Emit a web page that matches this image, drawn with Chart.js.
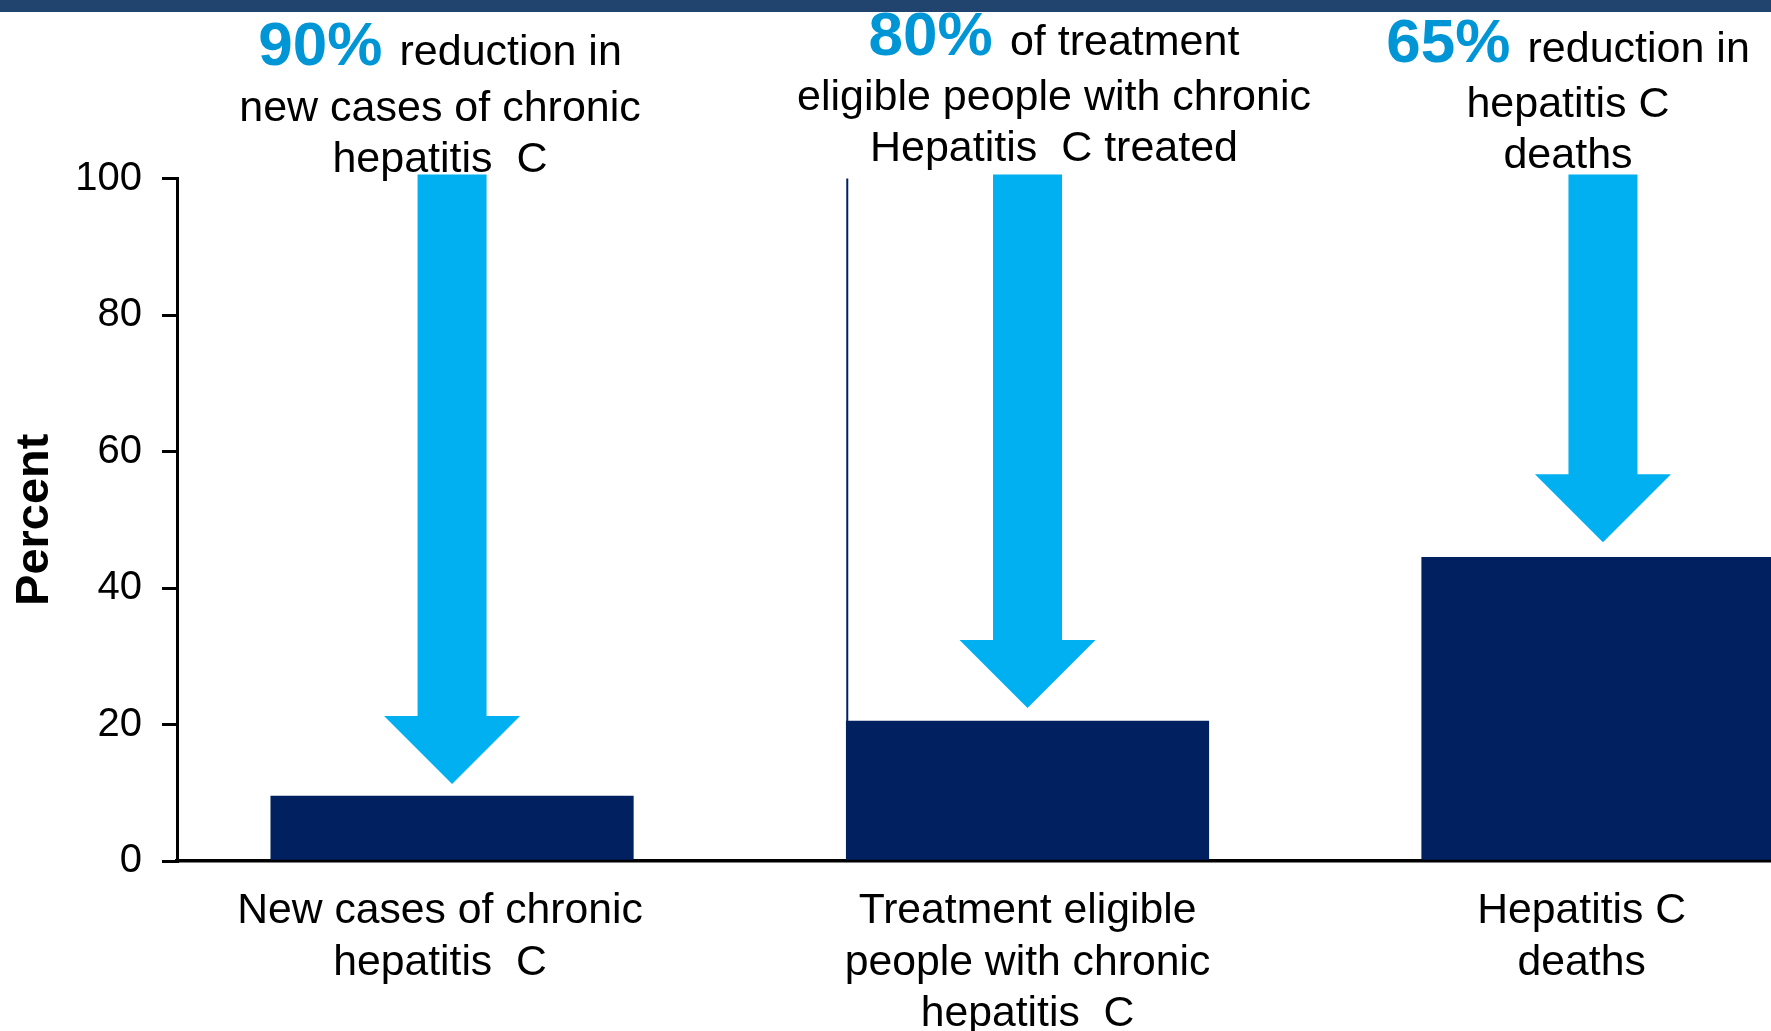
<!DOCTYPE html>
<html><head><meta charset="utf-8">
<script src="https://cdn.jsdelivr.net/npm/chart.js@4/dist/chart.umd.min.js"></script>
<style>html,body{margin:0;padding:0;background:#fff;overflow:hidden}#wrap{position:relative;width:1771px;height:1031px}</style>
</head><body><div id="wrap"><canvas id="c"></canvas></div>
<script>
// ---- data ----
const categories = [
  ["New cases of chronic", "hepatitis  C"],
  ["Treatment eligible", "people with chronic", "hepatitis  C"],
  ["Hepatitis C", "deaths"]
];
const percentValues = [9.5, 20.5, 44.5];
const arrowFrom = [100.6, 100.6, 100.6];
const arrowTo = [11.3, 22.4, 46.7];
const targetPercents = ["90%", "80%", "65%"];
const targetTexts = [
  ["reduction in", "new cases of chronic", "hepatitis  C"],
  ["of treatment", "eligible people with chronic", "Hepatitis  C treated"],
  ["reduction in", "hepatitis C", "deaths"]
];
const yTicks = [0, 20, 40, 60, 80, 100];
const yTitle = "Percent";

const FAMILY = '"Liberation Sans", Arial, Helvetica, sans-serif';
const BAR = '#002060', ARROW = '#00B0F0', PCT = '#0096D6', BAND = '#21446F';
// small horizontal nudges of the category labels (layout only)
const LABEL_NUDGE = [-0.021, 0, -0.037];

const decorPlugin = {
  id: 'decor',
  beforeDraw(chart) {
    const ctx = chart.ctx;
    ctx.save();
    ctx.fillStyle = BAND;
    ctx.fillRect(0, 0, chart.width, 12);
    ctx.restore();
  },
  afterDatasetsDraw(chart) {
    const ctx = chart.ctx;
    const xs = chart.scales.x, ys = chart.scales.y;
    const meta = chart.getDatasetMeta(0);
    ctx.save();
    // thin edge line on second bar
    const el = meta.data[1];
    if (el) {
      const left = el.x - el.width / 2;
      ctx.strokeStyle = BAR; ctx.lineWidth = 2;
      ctx.beginPath();
      ctx.moveTo(left + 1, ys.getPixelForValue(100));
      ctx.lineTo(left + 1, el.y);
      ctx.stroke();
    }
    // arrows
    const sw = 34.5, hw = 68, hl = 68;
    ctx.fillStyle = ARROW;
    arrowFrom.forEach((v, i) => {
      const cx = xs.getPixelForValue(i);
      const yTop = ys.getPixelForValue(v);
      const yTip = ys.getPixelForValue(arrowTo[i]);
      ctx.beginPath();
      ctx.moveTo(cx - sw, yTop);
      ctx.lineTo(cx + sw, yTop);
      ctx.lineTo(cx + sw, yTip - hl);
      ctx.lineTo(cx + hw, yTip - hl);
      ctx.lineTo(cx, yTip);
      ctx.lineTo(cx - hw, yTip - hl);
      ctx.lineTo(cx - sw, yTip - hl);
      ctx.closePath();
      ctx.fill();
    });
    // annotations
    const layout = [
      { cx: 440, base: [65, 121, 172] },
      { cx: 1054, base: [55, 110, 161] },
      { cx: 1568, base: [62, 117, 168] }
    ];
    const bold = 'bold 62px ' + FAMILY, norm = '43px ' + FAMILY;
    ctx.textBaseline = 'alphabetic';
    targetTexts.forEach((lines, i) => {
      const L = layout[i];
      ctx.font = bold;
      const p = targetPercents[i] + ' ';
      const wp = ctx.measureText(p).width;
      ctx.font = norm;
      const wt = ctx.measureText(lines[0]).width;
      let x = L.cx - (wp + wt) / 2;
      ctx.textAlign = 'left';
      ctx.font = bold; ctx.fillStyle = PCT;
      ctx.fillText(p, x, L.base[0]);
      ctx.font = norm; ctx.fillStyle = '#000';
      ctx.fillText(lines[0], x + wp, L.base[0]);
      ctx.textAlign = 'center';
      for (let k = 1; k < lines.length; k++) {
        ctx.fillText(lines[k], L.cx, L.base[k]);
      }
    });
    ctx.restore();
  }
};

new Chart(document.getElementById('c'), {
  type: 'bar',
  data: {
    datasets: [{
      data: percentValues.map((v, i) => ({ x: i, y: v })),
      backgroundColor: BAR,
      borderWidth: 0,
      barThickness: 362.5
    }]
  },
  options: {
    responsive: true,
    maintainAspectRatio: false,
    animation: false,
    layout: { padding: { top: 178.5, left: 0, right: 0, bottom: 0 } },
    plugins: { legend: { display: false }, tooltip: { enabled: false } },
    scales: {
      x: {
        type: 'linear',
        offset: false,
        min: -0.478, max: 2.292,
        afterBuildTicks: s => { s.ticks = categories.map((c, i) => ({ value: i + LABEL_NUDGE[i] })); },
        afterFit: s => { s.height = 170; },
        grid: { display: false, offset: false },
        border: { display: true, color: '#000', width: 3.5 },
        ticks: {
          autoSkip: false, maxRotation: 0, minRotation: 0, padding: 17,
          color: '#000', font: { size: 42.7, family: FAMILY, lineHeight: 1.2 },
          callback: (v, idx) => categories[idx]
        }
      },
      y: {
        min: 0, max: 100,
        afterBuildTicks: s => { s.ticks = yTicks.map(v => ({ value: v })); },
        afterFit: s => { s.width = 177; },
        grid: { drawOnChartArea: false, drawTicks: true, tickLength: 15, lineWidth: 3, tickWidth: 3, tickColor: '#000', color: '#000' },
        border: { display: true, color: '#000', width: 3 },
        ticks: { padding: 20, color: '#000', font: { size: 40, family: FAMILY } },
        title: {
          display: true, text: yTitle, color: '#000',
          font: { size: 47, weight: 'bold', family: FAMILY, lineHeight: 1.2 },
          padding: { top: 7, bottom: 0 }
        }
      }
    }
  },
  plugins: [decorPlugin]
});
</script>
</body></html>
